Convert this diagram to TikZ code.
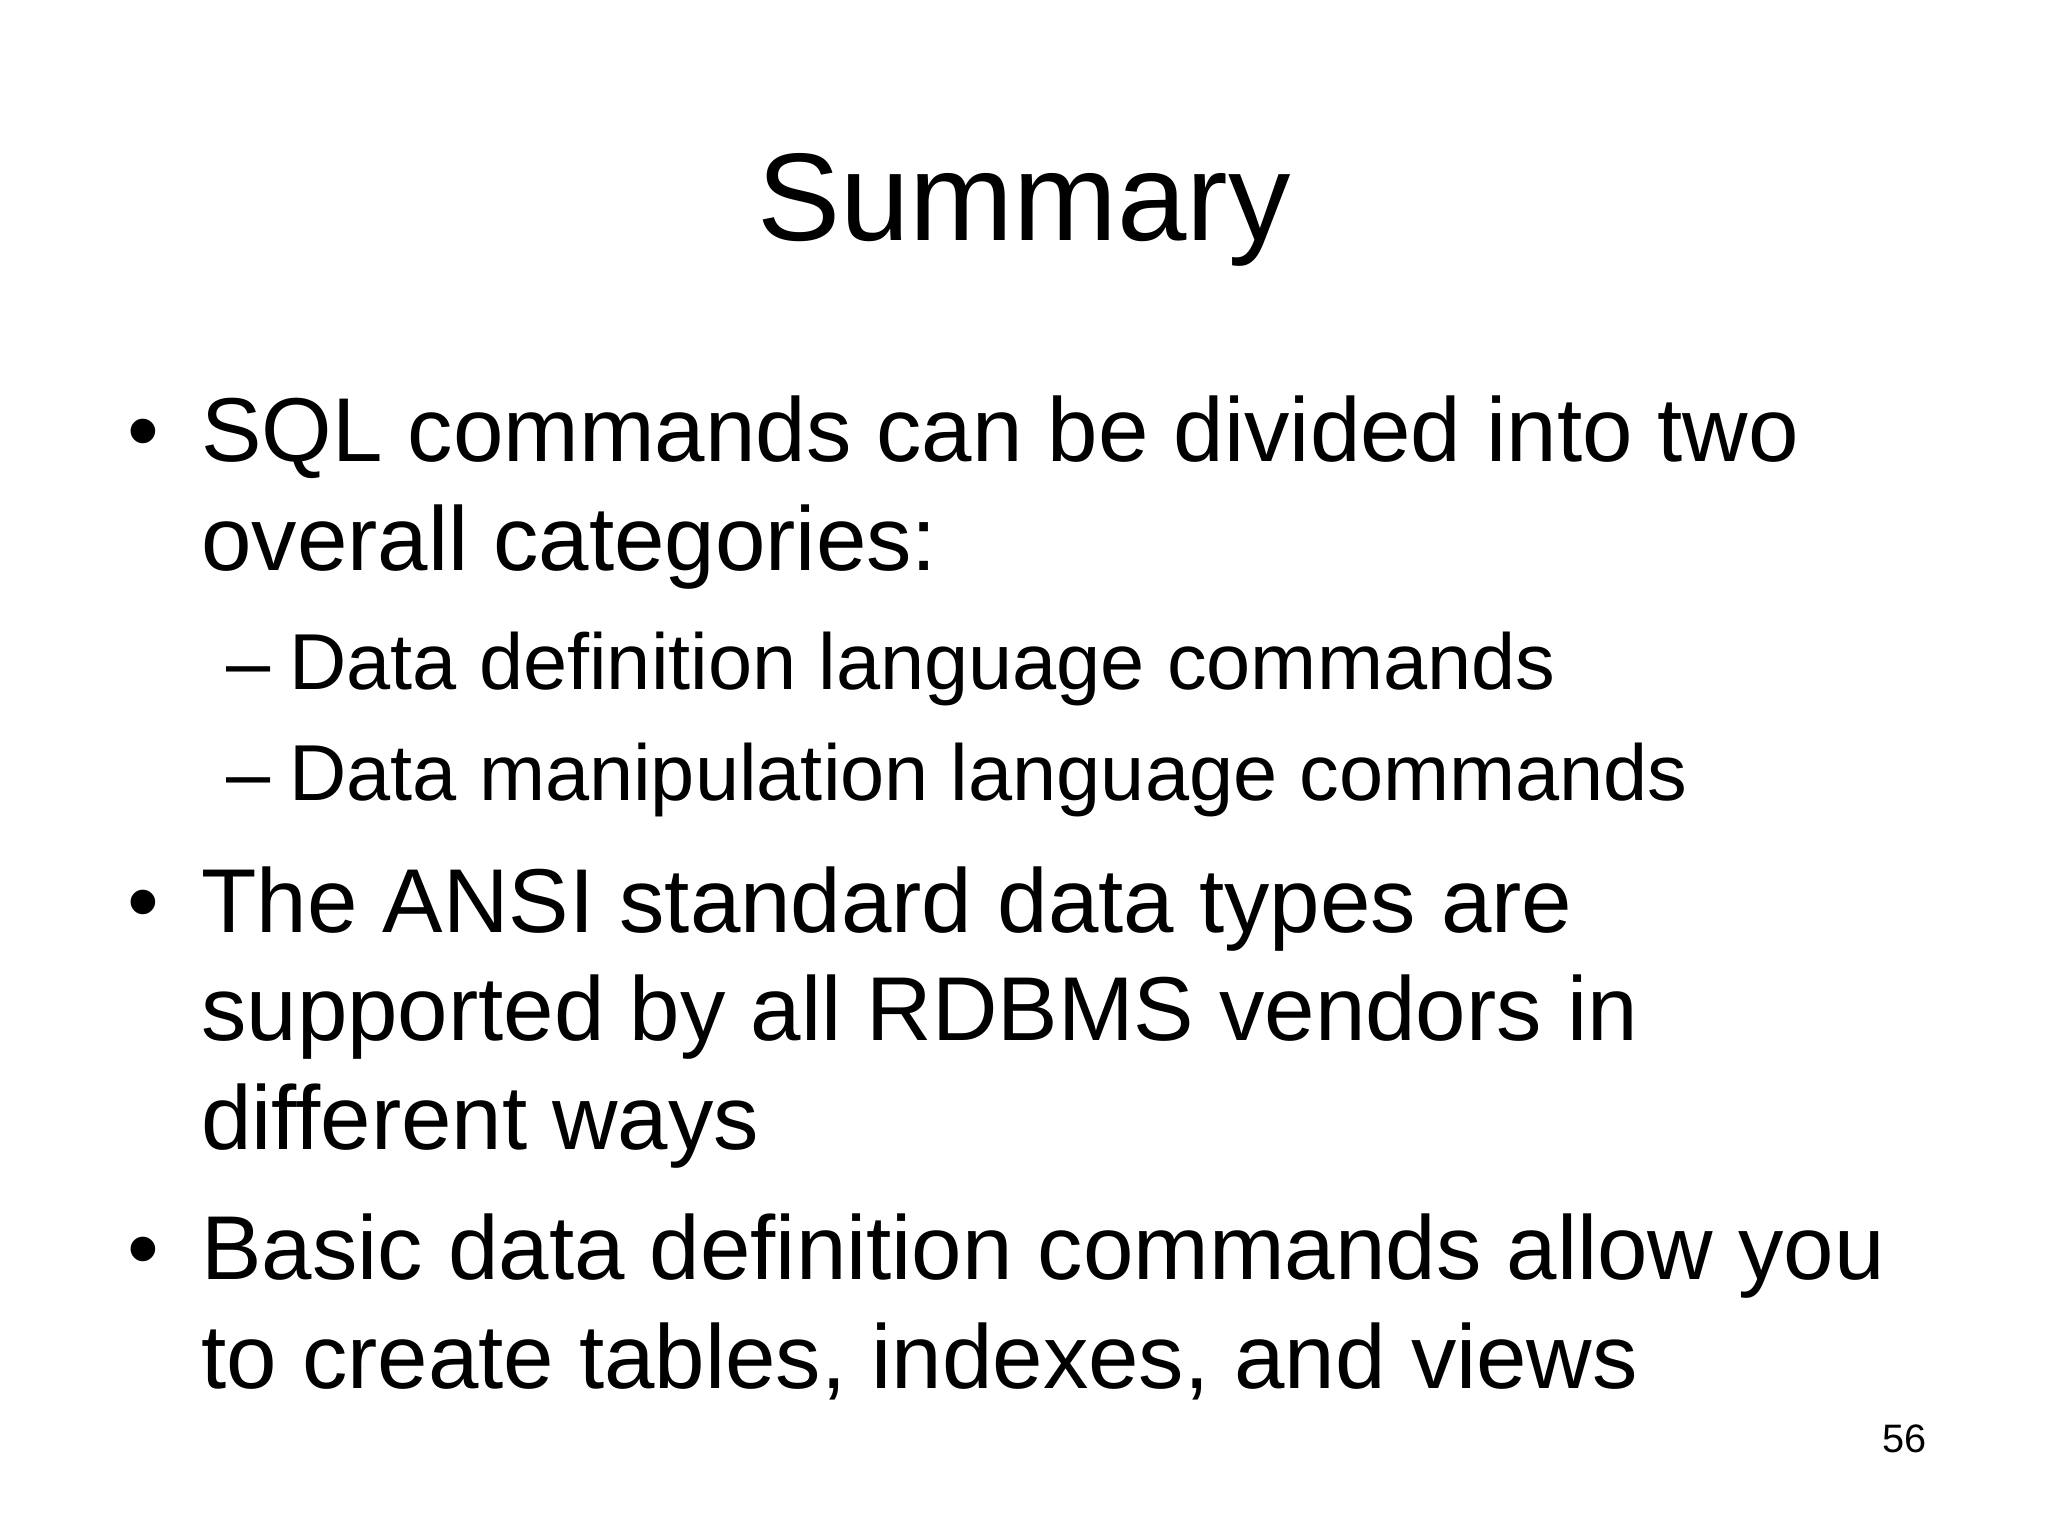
\documentclass[tikz,border=0pt]{standalone}
\usepackage{fontspec}
\setmainfont{Liberation Sans}
\usepackage{tikz}
\tikzstyle{title}=[anchor=base,inner sep=0mm,font=\fontsize{44}{53}\selectfont]
\tikzstyle{item}=[anchor=base west,inner sep=0mm,font=\fontsize{32}{38}\selectfont]
\tikzstyle{subitem}=[anchor=base west,inner sep=0mm,font=\fontsize{28}{34}\selectfont]
\tikzstyle{pageno}=[anchor=base east,inner sep=0mm,font=\fontsize{14}{17}\selectfont]

\begin{document}
\begin{tikzpicture}
      \useasboundingbox[fill=white] (0,0) rectangle (25.4,19.05);
      \node[title] at (12.70,16.07) (title) {Summary};
      % first bullet
      \node[item] at (1.57,13.32) (d1) {•};
      \node[item] at (2.49,13.32) (b1a) {SQL commands can be divided into two};
      \node[item] at (2.49,11.97) (b1b) {overall categories:};
      \node[subitem] at (2.80,10.50) (s1) {–\hspace{0.24em}Data definition language commands};
      \node[subitem] at (2.80,9.12) (s2) {–\hspace{0.24em}Data manipulation language commands};
      % second bullet
      \node[item] at (1.57,7.49) (d2) {•};
      \node[item] at (2.49,7.49) (b2a) {The ANSI standard data types are};
      \node[item] at (2.49,6.14) (b2b) {supported by all RDBMS vendors in};
      \node[item] at (2.49,4.79) (b2c) {different ways};
      % third bullet
      \node[item] at (1.57,3.18) (d3) {•};
      \node[item] at (2.49,3.18) (b3a) {Basic data definition commands allow you};
      \node[item] at (2.49,1.83) (b3b) {to create tables, indexes, and views};
      \node[pageno] at (23.90,1.03) (page) {56};
    \end{tikzpicture}
\end{document}
